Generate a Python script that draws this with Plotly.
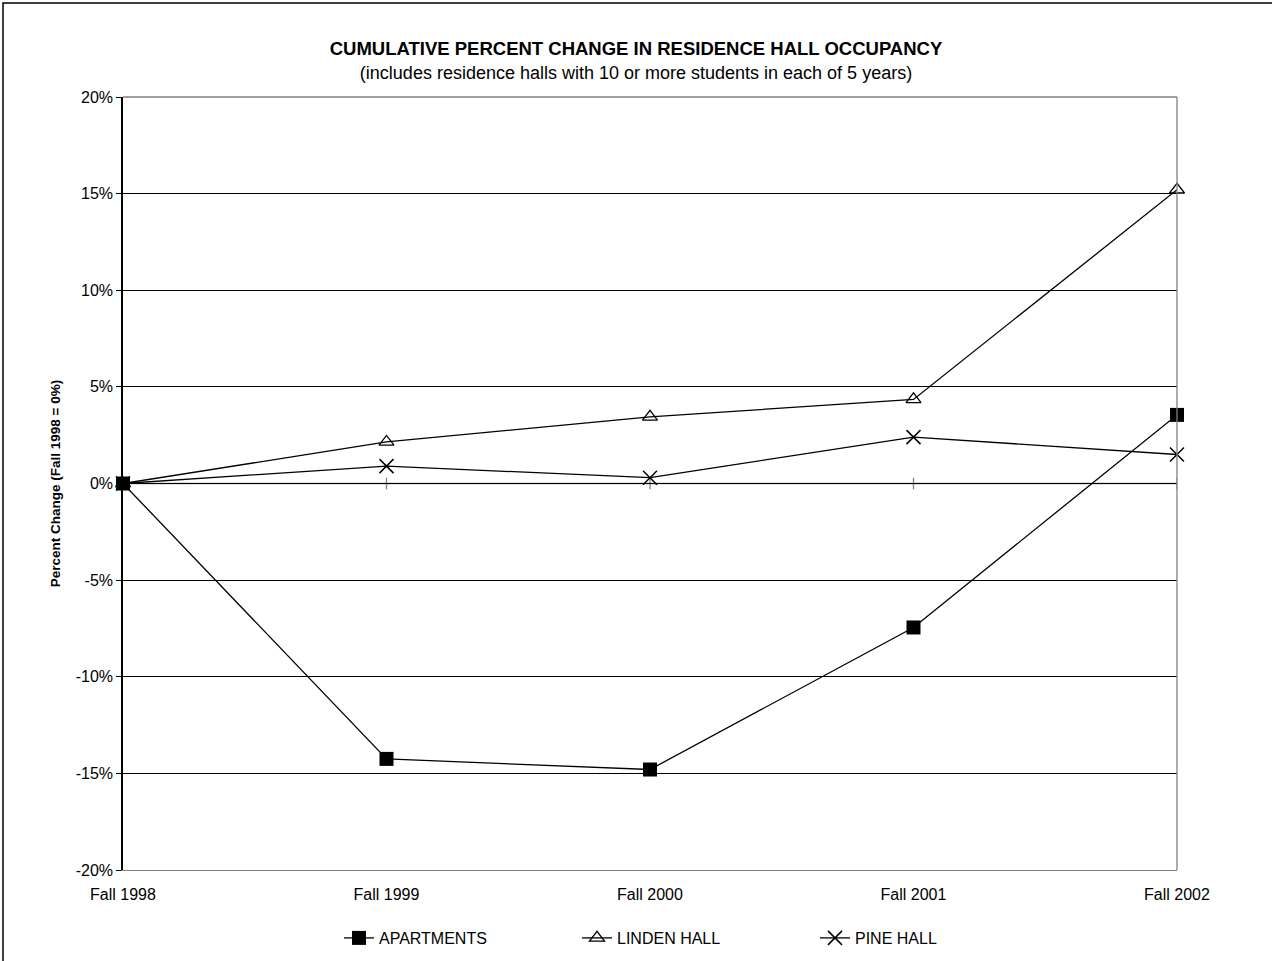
import plotly.graph_objects as go

categories = ["Fall 1998", "Fall 1999", "Fall 2000", "Fall 2001", "Fall 2002"]
apartments = [0.0, -14.25, -14.8, -7.45, 3.55]
linden_hall = [0.0, 2.15, 3.45, 4.35, 15.2]
pine_hall = [0.0, 0.9, 0.3, 2.4, 1.5]
y_ticks = [-20, -15, -10, -5, 0, 5, 10, 15, 20]
y_tick_labels = [f"{v}%" for v in y_ticks]

xs = list(range(len(categories)))
FONT = "Liberation Sans, Arial, sans-serif"

W, H = 1272, 961
L, R, T, B = 123, 95, 97, 91
PW, PH = W - L - R, H - T - B

fig = go.Figure()
fig.add_trace(go.Scatter(
    x=xs, y=apartments, name="APARTMENTS", mode="lines+markers", cliponaxis=False,
    line=dict(color="black", width=1.3),
    marker=dict(symbol="square", size=14, color="black"),
))
fig.add_trace(go.Scatter(
    x=xs, y=linden_hall, name="LINDEN HALL", mode="lines+markers", cliponaxis=False,
    line=dict(color="black", width=1.3),
    marker=dict(symbol="triangle-up-open", size=13, color="black", line=dict(width=1.3)),
))
fig.add_trace(go.Scatter(
    x=xs, y=pine_hall, name="PINE HALL", mode="lines+markers", cliponaxis=False,
    line=dict(color="black", width=1.3),
    marker=dict(symbol="x-thin-open", size=14, color="black", line=dict(width=1.5, color="black")),
))

shapes = []
# zero line (category axis crossing)
shapes.append(dict(type="line", xref="x", yref="y", x0=0, x1=len(categories) - 1, y0=0, y1=0,
                   line=dict(color="#808080", width=1.3), layer="below"))
for i in xs:
    shapes.append(dict(type="line", xref="x", yref="y", x0=i, x1=i, y0=-0.3, y1=0.3,
                       line=dict(color="#808080", width=1.3), layer="below"))
# outer chart border
shapes.append(dict(type="rect", xref="paper", yref="paper",
                   x0=(3 - L) / PW, x1=(W + 20 - L) / PW,
                   y0=-(B + 20) / PH, y1=(PH + T - 3) / PH,
                   line=dict(color="black", width=1.5), fillcolor="rgba(0,0,0,0)"))
# plot area frame top/right
shapes.append(dict(type="line", xref="paper", yref="paper", x0=0, x1=1, y0=1, y1=1,
                   line=dict(color="#808080", width=1.3)))
shapes.append(dict(type="line", xref="paper", yref="paper", x0=1, x1=1, y0=0, y1=1,
                   line=dict(color="#808080", width=1.3)))

fig.update_layout(
    width=W, height=H,
    paper_bgcolor="white", plot_bgcolor="white",
    margin=dict(l=L, r=R, t=T, b=B, autoexpand=False),
    font=dict(family=FONT, size=16, color="black"),
    title=dict(
        text="<b>CUMULATIVE PERCENT CHANGE IN RESIDENCE HALL OCCUPANCY</b><br>"
             "<span style='font-size:18px'>(includes residence halls with 10 or more students in each of 5 years)</span>",
        x=0.5, xanchor="center", y=1 - 55 / H, yanchor="top",
        font=dict(family=FONT, size=18.5),
    ),
    xaxis=dict(
        range=[0, len(categories) - 1], tickvals=xs, ticktext=categories,
        showgrid=False, zeroline=False, showline=True, linecolor="#808080", linewidth=1.3,
        ticks="", ticklen=0, ticklabelstandoff=10, tickfont=dict(size=16), fixedrange=True,
    ),
    yaxis=dict(
        range=[-20, 20], tickvals=y_ticks, ticktext=y_tick_labels,
        showgrid=True, gridcolor="black", gridwidth=1, zeroline=False,
        showline=True, linecolor="black", linewidth=1.5,
        ticks="outside", ticklen=5, tickcolor="black",
        tickfont=dict(size=16),
        title=dict(text="<b>Percent Change (Fall 1998 = 0%)</b>", font=dict(size=13.5), standoff=12),
    ),
    legend=dict(
        orientation="h", xref="paper", x=0.5 + 46 / PW, xanchor="center",
        yref="container", y=(H - 938) / H, yanchor="middle",
        font=dict(size=16), itemwidth=30, entrywidth=193, entrywidthmode="pixels",
    ),
    shapes=shapes,
    showlegend=True,
)

fig.write_html("out.html", config={"displayModeBar": False},
               post_script="document.body.style.margin='0';document.body.style.overflow='hidden';")
